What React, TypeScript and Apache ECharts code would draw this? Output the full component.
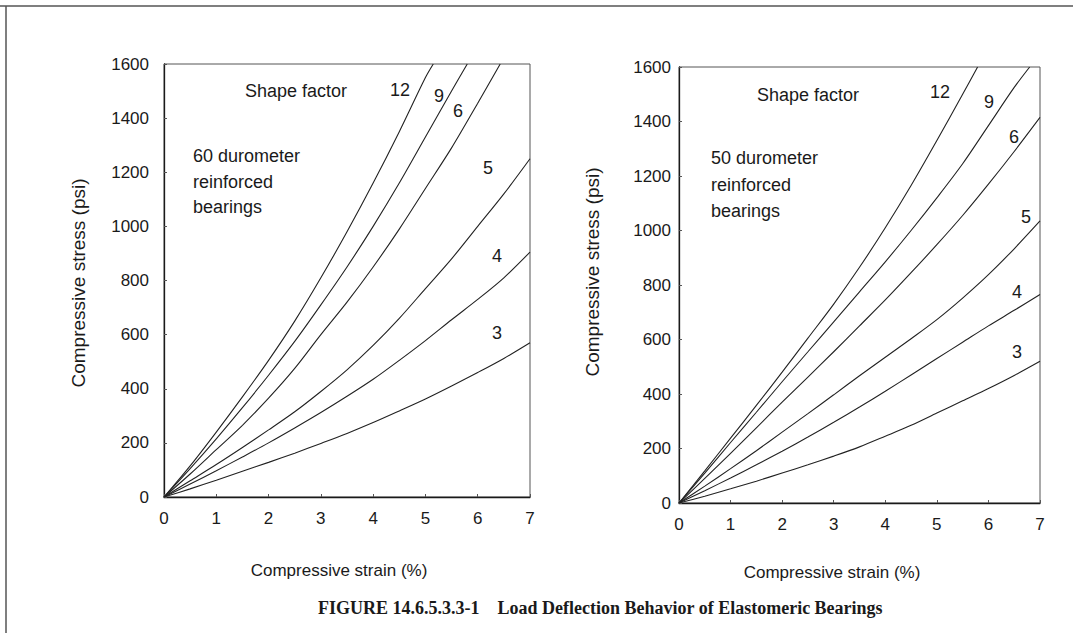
import React, { useEffect, useRef } from "react";
import * as echarts from "echarts";

// ---------- data ----------
const STRAIN = [0, 0.5, 1, 1.5, 2, 2.5, 3, 3.5, 4, 4.5, 5, 5.5, 6, 6.5, 7];

// 60 durometer (left panel)
const L3 = [0, 30, 62, 95, 128, 162, 198, 235, 275, 318, 362, 410, 460, 512, 570];
const L4 = [0, 48, 97, 148, 200, 255, 312, 372, 435, 505, 578, 655, 730, 810, 905];
const L5 = [0, 60, 120, 183, 248, 315, 390, 470, 560, 660, 770, 880, 1000, 1120, 1250];
const L6_STRAIN = [0, 0.5, 1, 1.5, 2, 2.5, 3, 3.5, 4, 4.5, 5, 5.5, 6, 6.43];
const L6 = [0, 85, 175, 265, 365, 475, 600, 720, 850, 990, 1140, 1290, 1455, 1600];
const L9_STRAIN = [0, 0.5, 1, 1.5, 2, 2.5, 3, 3.5, 4, 4.5, 5, 5.5, 5.8];
const L9 = [0, 105, 215, 330, 450, 575, 710, 850, 1000, 1160, 1330, 1500, 1600];
const L12_STRAIN = [0, 0.5, 1, 1.5, 2, 2.5, 3, 3.5, 4, 4.5, 5, 5.15];
const L12 = [0, 115, 240, 370, 505, 650, 810, 980, 1160, 1350, 1550, 1600];

// 50 durometer (right panel)
const R3 = [0, 25, 52, 80, 110, 140, 172, 206, 245, 285, 330, 375, 420, 468, 520];
const R4 = [0, 45, 92, 140, 190, 242, 296, 352, 410, 470, 530, 590, 650, 707, 765];
const R5 = [0, 62, 126, 192, 260, 328, 397, 467, 535, 603, 673, 752, 838, 933, 1035];
const R6 = [0, 90, 182, 276, 370, 462, 555, 650, 745, 845, 948, 1055, 1170, 1290, 1415];
const R9_STRAIN = [0, 0.5, 1, 1.5, 2, 2.5, 3, 3.5, 4, 4.5, 5, 5.5, 6, 6.5, 6.8];
const R9 = [0, 110, 222, 333, 445, 555, 665, 775, 885, 1000, 1120, 1245, 1385, 1525, 1600];
const R12_STRAIN = [0, 0.5, 1, 1.5, 2, 2.5, 3, 3.5, 4, 4.5, 5, 5.5, 5.79];
const R12 = [0, 118, 238, 358, 480, 605, 730, 865, 1010, 1165, 1330, 1500, 1600];

const SHAPE_FACTORS = ["12", "9", "6", "5", "4", "3"];
const PANEL_NOTES = [
  ["60 durometer", "reinforced", "bearings"],
  ["50 durometer", "reinforced", "bearings"],
];
const X_TITLE = "Compressive strain (%)";
const Y_TITLE = "Compressive stress (psi)";
const CAPTION = "FIGURE 14.6.5.3.3-1    Load Deflection Behavior of Elastomeric Bearings";

const zip = (xs: number[], ys: number[]) => xs.map((x, i) => [x, ys[i]]);

const SANS = "'Liberation Sans', Arial, sans-serif";
const SERIF = "'Liberation Serif', 'Times New Roman', serif";
const INK = "#1a1a1a";

export default function App() {
  const ref = useRef<HTMLDivElement>(null);

  useEffect(() => {
    if (!ref.current) return;
    const chart = echarts.init(ref.current, undefined, { renderer: "svg" });

    const grids = [
      { left: 164, top: 64, width: 366, height: 433 },
      { left: 679, top: 67, width: 361, height: 436 },
    ];

    const xAxis = grids.map((_, i) => ({
      gridIndex: i,
      type: "value",
      min: 0,
      max: 7,
      interval: 1,
      axisLine: { show: true, onZero: false, lineStyle: { color: INK, width: 1.3 } },
      axisTick: { show: true, inside: true, length: 3, lineStyle: { color: "#555" } },
      axisLabel: { color: INK, fontSize: 17, fontFamily: SANS, margin: 13, formatter: (v: number) => String(v) },
      splitLine: { show: false },
    }));
    const yAxis = grids.map((_, i) => ({
      gridIndex: i,
      type: "value",
      min: 0,
      max: 1600,
      interval: 200,
      axisLine: { show: true, onZero: false, lineStyle: { color: INK, width: 1.3 } },
      axisTick: { show: true, inside: true, length: 3, lineStyle: { color: "#555" } },
      axisLabel: {
        color: INK,
        fontSize: 17,
        fontFamily: SANS,
        margin: i === 0 ? 15 : 8,
        formatter: (v: number) => String(v),
      },
      splitLine: { show: false },
    }));

    const curves: [number, number[], number[]][] = [
      [0, STRAIN, L3],
      [0, STRAIN, L4],
      [0, STRAIN, L5],
      [0, L6_STRAIN, L6],
      [0, L9_STRAIN, L9],
      [0, L12_STRAIN, L12],
      [1, STRAIN, R3],
      [1, STRAIN, R4],
      [1, STRAIN, R5],
      [1, STRAIN, R6],
      [1, R9_STRAIN, R9],
      [1, R12_STRAIN, R12],
    ];

    const series = curves.map(([g, xs, ys]) => ({
      type: "line",
      xAxisIndex: g,
      yAxisIndex: g,
      data: zip(xs, ys),
      smooth: 0.3,
      symbol: "none",
      lineStyle: { color: "#222", width: 1.1 },
      silent: true,
    }));

    const txt = (x: number, y: number, text: string, extra: any = {}) => ({
      type: "text",
      x,
      y,
      style: {
        text,
        fill: INK,
        font: `18px ${SANS}`,
        textVerticalAlign: "middle",
        ...extra,
      },
    });

    const leftLabelPos = [
      [390, 90],
      [434, 96],
      [453, 111],
      [483, 168],
      [492, 256],
      [492, 333],
    ];
    const rightLabelPos = [
      [930, 92],
      [984, 102],
      [1009, 137],
      [1021, 217],
      [1012, 292],
      [1012, 352],
    ];

    const graphic: any[] = [
      // page frame
      { type: "line", shape: { x1: 0, y1: 6, x2: 1073, y2: 6 }, style: { stroke: "#555", lineWidth: 1.5 } },
      { type: "line", shape: { x1: 6, y1: 6, x2: 6, y2: 633 }, style: { stroke: "#555", lineWidth: 1.5 } },
      // panel texts
      txt(245, 91, "Shape factor"),
      txt(757, 95, "Shape factor"),
      ...SHAPE_FACTORS.map((s, i) => txt(leftLabelPos[i][0], leftLabelPos[i][1], s)),
      ...SHAPE_FACTORS.map((s, i) => txt(rightLabelPos[i][0], rightLabelPos[i][1], s)),
      ...PANEL_NOTES[0].map((s, i) => txt(193, 156 + i * 25.5, s)),
      ...PANEL_NOTES[1].map((s, i) => txt(711, 158 + i * 26.5, s)),
      // axis titles
      txt(339, 570, X_TITLE, { textAlign: "center", font: `17px ${SANS}` }),
      txt(832, 572, X_TITLE, { textAlign: "center", font: `17px ${SANS}` }),
      {
        type: "text",
        x: 78,
        y: 283,
        rotation: Math.PI / 2,
        style: { text: Y_TITLE, fill: INK, font: `19px ${SANS}`, textAlign: "center", textVerticalAlign: "middle" },
      },
      {
        type: "text",
        x: 592,
        y: 272,
        rotation: Math.PI / 2,
        style: { text: Y_TITLE, fill: INK, font: `19px ${SANS}`, textAlign: "center", textVerticalAlign: "middle" },
      },
      // caption
      txt(318, 608, CAPTION, { font: `bold 18px ${SERIF}` }),
    ];

    chart.setOption({
      animation: false,
      backgroundColor: "#ffffff",
      grid: grids.map((g) => ({ ...g, show: true, borderColor: "#555", borderWidth: 1, backgroundColor: "transparent" })),
      xAxis,
      yAxis,
      series,
      graphic,
    } as any);

    return () => chart.dispose();
  }, []);

  return (
    <div
      ref={ref}
      style={{ position: "fixed", left: 0, top: 0, width: 1073, height: 633, background: "#fff" }}
    />
  );
}
